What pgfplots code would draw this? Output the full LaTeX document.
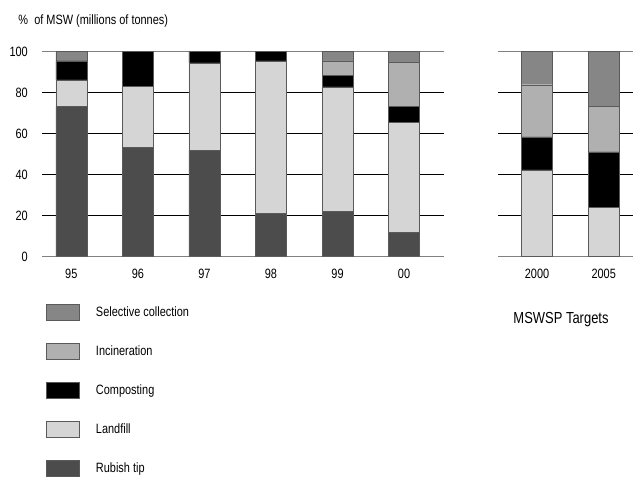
\documentclass[border=0pt]{standalone}
\usepackage{fontspec}
\setmainfont[FakeStretch=0.81]{Liberation Sans}
\usepackage{pgfplots}
\pgfplotsset{compat=1.18}
\definecolor{cSel}{HTML}{868686}
\definecolor{cInc}{HTML}{B0B0B0}
\definecolor{cLand}{HTML}{D5D5D5}
\definecolor{cRub}{HTML}{4C4C4C}
\definecolor{cEdge}{HTML}{5A5A5A}
\pgfplotsset{mylegend/.style={legend image code/.code={\draw[##1,draw=cEdge,line width=0.5pt] (0bp,-9bp) rectangle (33.5bp,7.5bp);}}}
\pgfplotsset{common/.style={
  ybar stacked, bar width=31bp,
  scale only axis, height=205bp, anchor=south west,
  ymin=0, ymax=100, ytick={0,20,40,60,80,100},
  ymajorgrids, grid style={black, line width=0.6pt},
  separate axis lines,
  x axis line style={draw=black!50, line width=1.3pt},
  y axis line style={draw=none},
  major tick length=0pt,
  tick style={draw=none},
  /pgf/number format/assume math mode=true,
  tick label style={font=\fontsize{13.5bp}{15bp}\selectfont},
  xticklabel style={inner sep=0pt, yshift=-12.5bp},
  yticklabel style={inner sep=0pt, xshift=-14bp},
  xtick=data,
  every axis plot/.append style={draw=cEdge, line width=0.4pt},
  every axis plot post/.append style={mylegend},
}}
\begin{document}
\begin{tikzpicture}
\useasboundingbox (0bp,0bp) rectangle (633bp,477bp);
\begin{axis}[common, at={(42bp,220.3bp)}, width=402bp,
  xmin=-0.44, xmax=5.6,
  xticklabels={95,96,97,98,99,00},
  reverse legend,
  legend style={draw=none, fill=none, at={(axis description cs:0.00995,-0.2307)}, anchor=north west,
    inner sep=0pt, outer sep=0pt, row sep=22bp, column sep=16bp,
    nodes={inner sep=0pt, text depth=0pt, font=\fontsize{13.5bp}{15bp}\selectfont}},
  legend cell align=left,
]
\addplot[fill=cRub, mylegend] coordinates {(0,73.2) (1,53.5) (2,51.9) (3,21.2) (4,22) (5,11.9)};
\addplot[fill=cLand, mylegend] coordinates {(0,13) (1,29.6) (2,42.7) (3,74.3) (4,60.9) (5,53.7)};
\addplot[fill=black, mylegend] coordinates {(0,9.3) (1,16.9) (2,5.4) (3,4.5) (4,5.6) (5,7.9)};
\addplot[fill=cInc, mylegend] coordinates {(0,0) (1,0) (2,0) (3,0) (4,7) (5,21.3)};
\addplot[fill=cSel, mylegend] coordinates {(0,4.5) (1,0) (2,0) (3,0) (4,4.5) (5,5.2)};
\legend{Rubish tip, Landfill, Composting, Incineration, Selective collection}
\end{axis}
\begin{axis}[common, at={(498bp,220.3bp)}, width=135bp,
  xmin=-0.585, xmax=1.44,
  xticklabels={2000,2005},
  yticklabels={},
]
\addplot[fill=cRub] coordinates {(0,0) (1,0)};
\addplot[fill=cLand] coordinates {(0,42.3) (1,24.1)};
\addplot[fill=black] coordinates {(0,16.2) (1,27)};
\addplot[fill=cInc] coordinates {(0,25.4) (1,22.1)};
\addplot[fill=cSel] coordinates {(0,16.1) (1,26.8)};
\end{axis}
\node[anchor=base west, inner sep=0pt, font=\fontsize{13.5bp}{15bp}\selectfont] at (18.3bp,452.5bp) {\%\ \ of MSW (millions of tonnes)};
\node[anchor=base, inner sep=0pt, font=\fontsize{16bp}{18bp}\selectfont] at (561bp,153bp) {MSWSP Targets};
\end{tikzpicture}
\end{document}
